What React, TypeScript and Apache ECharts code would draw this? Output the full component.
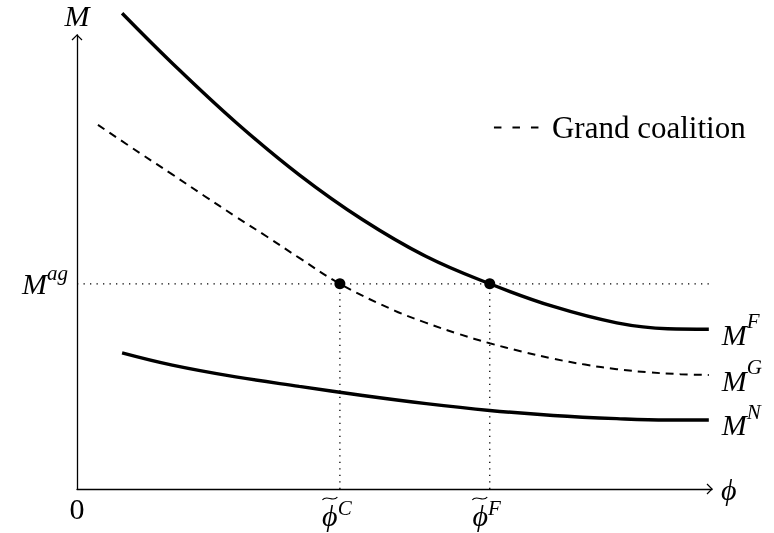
import React, { useEffect, useRef } from 'react';
import * as echarts from 'echarts';

// Curves (x = phi, y = M, arbitrary units)
const curveF: [number, number][] = [
  [0.71, 10.48], [1.5, 9.38], [2.5, 8.08], [3.5, 6.92], [4.5, 5.93], [5.5, 5.12],
  [6.5, 4.52], [7.5, 4.02], [8.5, 3.66], [9.3, 3.53], [9.95, 3.52],
];
const curveG: [number, number][] = [
  [0.33, 8.02], [1.0, 7.39], [1.5, 6.93], [2.0, 6.46], [2.5, 6.0], [3.0, 5.55],
  [3.5, 5.09], [4.14, 4.52], [5.0, 3.93], [5.5, 3.66], [6.0, 3.42], [6.5, 3.21],
  [7.0, 3.03], [7.5, 2.87], [8.0, 2.74], [8.5, 2.64], [9.0, 2.57], [9.5, 2.53], [9.95, 2.51],
];
const curveN: [number, number][] = [
  [0.71, 3.0], [1.5, 2.73], [2.5, 2.47], [3.5, 2.26], [4.5, 2.06], [5.5, 1.88],
  [6.5, 1.73], [7.5, 1.62], [8.5, 1.55], [9.3, 1.52], [9.95, 1.52],
];
const PHI_C = 4.14;
const PHI_F = 6.5;
const M_AG = 4.52;
const X_MAX = 10;
const Y_MAX = 10;
const xTickValues = [0, PHI_C, PHI_F];
const tildeTicks = [PHI_C, PHI_F];
const yTickValues = [M_AG];
const legendLabel = 'Grand coalition';

const SERIF = "'Liberation Serif', 'DejaVu Serif', serif";
const INK = '#000';

export default function App() {
  const ref = useRef<HTMLDivElement>(null);
  useEffect(() => {
    const chart = echarts.init(ref.current!, null, { renderer: 'svg' });
    const mathRich: any = {
      m: { fontFamily: SERIF, fontStyle: 'italic', fontSize: 30, lineHeight: 30, color: INK },
      s: { fontFamily: SERIF, fontStyle: 'italic', fontSize: 21, lineHeight: 20, padding: [0, 0, 26, 0], color: INK },
    };
    const endLabel = (sup: string) => ({
      show: true,
      formatter: `{m|M}{s|${sup}}`,
      rich: mathRich,
      distance: 13,
      offset: [0, 5],
    });
    const dotted = { color: INK, width: 1.3, type: [1.3, 5.2] as any };
    const lastX = curveF[curveF.length - 1][0];

    chart.setOption({
      animation: false,
      grid: { left: 77, top: 35, width: 635, height: 454, containLabel: false },
      legend: {
        data: [legendLabel],
        left: 493,
        top: 112,
        padding: 0,
        itemWidth: 46,
        itemHeight: 14,
        selectedMode: false,
        itemStyle: { opacity: 0 },
        lineStyle: { type: [7.5, 11], width: 1.9, color: INK },
        textStyle: { fontFamily: SERIF, fontSize: 31, color: INK, lineHeight: 30, padding: [0, 0, 0, 7] },
      },
      xAxis: {
        type: 'value', min: 0, max: X_MAX,
        axisLine: { show: true, lineStyle: { color: INK, width: 1.3 } },
        axisTick: { show: false },
        splitLine: { show: false },
        axisLabel: {
          customValues: xTickValues,
          margin: 4,
          formatter: (v: number) => v === 0 ? '{z|0}' : `{p|ϕ}{s|${v === PHI_C ? 'C' : 'F'}}`,
          rich: {
            z: { fontFamily: SERIF, fontSize: 30, lineHeight: 30, color: INK },
            p: { fontFamily: SERIF, fontStyle: 'italic', fontSize: 30, lineHeight: 44, color: INK },
            s: { fontFamily: SERIF, fontStyle: 'italic', fontSize: 21, lineHeight: 44, padding: [0, 6, 15, 0], color: INK },
          },
        },
        name: 'ϕ',
        nameLocation: 'end',
        nameGap: 9,
        nameTextStyle: { fontFamily: SERIF, fontStyle: 'italic', fontSize: 30, color: INK, verticalAlign: 'middle', lineHeight: 30 },
      },
      yAxis: {
        type: 'value', min: 0, max: Y_MAX,
        axisLine: { show: true, lineStyle: { color: INK, width: 1.3 } },
        axisTick: { show: false },
        splitLine: { show: false },
        axisLabel: {
          customValues: yTickValues,
          margin: 9,
          formatter: () => '{m|M}{s|ag}',
          rich: {
            m: mathRich.m,
            s: { ...mathRich.s, padding: [0, 0, 22, 0] },
          },
        },
        name: 'M',
        nameLocation: 'end',
        nameGap: 20,
        nameTextStyle: { fontFamily: SERIF, fontStyle: 'italic', fontSize: 30, color: INK, verticalAlign: 'middle', lineHeight: 30, align: 'center' },
      },
      series: [
        {
          type: 'line', name: 'M^F', data: curveF, smooth: 0.4, symbol: 'none', clip: false, silent: true,
          itemStyle: { color: INK }, lineStyle: { color: INK, width: 3.4 }, endLabel: endLabel('F'), z: 3,
        },
        {
          type: 'line', name: legendLabel, data: curveG, smooth: 0.4, symbol: 'none', clip: false, silent: true,
          itemStyle: { color: INK }, lineStyle: { color: INK, width: 2, type: [8, 6] }, endLabel: endLabel('G'), z: 3,
        },
        {
          type: 'line', name: 'M^N', data: curveN, smooth: 0.4, symbol: 'none', clip: false, silent: true,
          itemStyle: { color: INK }, lineStyle: { color: INK, width: 3.4 }, endLabel: endLabel('N'), z: 3,
        },
        { type: 'line', data: [[0, M_AG], [lastX, M_AG]], symbol: 'none', silent: true, lineStyle: dotted, z: 2 },
        { type: 'line', data: [[PHI_C, 0], [PHI_C, M_AG]], symbol: 'none', silent: true, lineStyle: dotted, z: 2 },
        { type: 'line', data: [[PHI_F, 0], [PHI_F, M_AG]], symbol: 'none', silent: true, lineStyle: dotted, z: 2 },
        {
          type: 'scatter', data: [[PHI_C, M_AG], [PHI_F, M_AG]], symbol: 'circle', symbolSize: 11, silent: true,
          itemStyle: { color: INK, opacity: 1 }, z: 5,
        },
      ],
    });

    const yTip = chart.convertToPixel({ gridIndex: 0 }, [0, Y_MAX]) as number[];
    const xTip = chart.convertToPixel({ gridIndex: 0 }, [X_MAX, 0]) as number[];
    const arrowStyle = { stroke: INK, lineWidth: 1.2, fill: null as any };
    const tildes = tildeTicks.map((v) => {
      const p = chart.convertToPixel({ gridIndex: 0 }, [v, 0]) as number[];
      const x0 = p[0] - 17.5;
      const y0 = p[1] + 9.5;
      return {
        type: 'bezierCurve', silent: true,
        shape: { x1: x0, y1: y0 + 1.5, cpx1: x0 + 4.5, cpy1: y0 - 4.5, cpx2: x0 + 10.5, cpy2: y0 + 4.5, x2: x0 + 15, y2: y0 - 1.5 },
        style: { stroke: INK, lineWidth: 1.2, fill: null as any },
      };
    });
    chart.setOption({
      graphic: [
        {
          type: 'polyline', silent: true,
          shape: { points: [[yTip[0] - 5, yTip[1] + 5], [yTip[0], yTip[1]], [yTip[0] + 5, yTip[1] + 5]] },
          style: arrowStyle,
        },
        {
          type: 'polyline', silent: true,
          shape: { points: [[xTip[0] - 5, xTip[1] - 5], [xTip[0], xTip[1]], [xTip[0] - 5, xTip[1] + 5]] },
          style: arrowStyle,
        },
        ...tildes,
      ],
    });

    return () => chart.dispose();
  }, []);
  return <div ref={ref} style={{ position: 'fixed', left: 0, top: 0, width: 774, height: 533 }} />;
}
